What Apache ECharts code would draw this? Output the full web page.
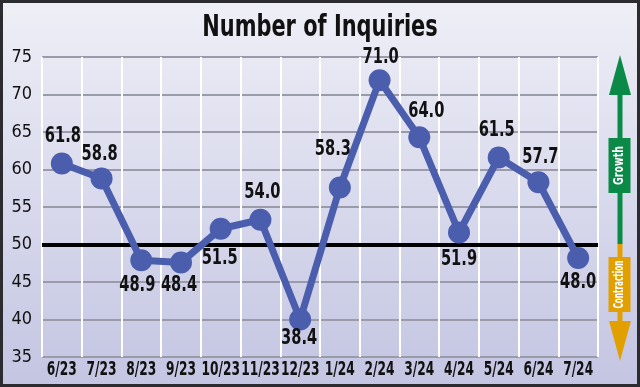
<!DOCTYPE html>
<html>
<head>
<meta charset="utf-8">
<script src="https://cdn.jsdelivr.net/npm/echarts@6/dist/echarts.min.js"></script>
<style>html,body{margin:0;padding:0;}#c{width:640px;height:387px;}</style>
</head>
<body>
<div id="c"></div>
<script>
// ---- data ----
const titleText = 'Number of Inquiries';
const categories = ['6/23','7/23','8/23','9/23','10/23','11/23','12/23','1/24','2/24','3/24','4/24','5/24','6/24','7/24'];
// values as plotted (point positions)
const plotted = [60.8, 58.8, 47.9, 47.6, 52.1, 53.3, 40.0, 57.6, 71.9, 64.3, 51.6, 61.6, 58.3, 48.2];
// values as printed next to each point
const printed = ['61.8','58.8','48.9','48.4','51.5','54.0','38.4','58.3','71.0','64.0','51.9','61.5','57.7','48.0'];
const yTicks = [35, 40, 45, 50, 55, 60, 65, 70, 75];
const threshold = 50;
const growthText = 'Growth';
const contractionText = 'Contraction';

// ---- layout ----
const labelOffsets = [[1,-27],[-2,-24],[-4,25],[-2,23],[-1,30],[2,-27],[-1,19],[-7,-38],[1,-23],[7,-26],[0,27],[-2,-27],[2,-25],[0,24]];
const FONT = '"DejaVu Sans Condensed", "Liberation Sans Narrow", Arial, sans-serif';
const lineColor = '#4b5eae';
const green = '#0b8a47';
const orange = '#e2a000';

const chart = echarts.init(document.getElementById('c'), null, {renderer: 'canvas'});

chart.setOption({
  animation: false,
  backgroundColor: {
    type: 'linear', x: 0, y: 0, x2: 0, y2: 1,
    colorStops: [{offset: 0, color: '#efeff7'}, {offset: 1, color: '#c3c5e2'}]
  },
  grid: { left: 42, right: 42, top: 57, bottom: 30, containLabel: false },
  xAxis: {
    type: 'category', data: categories, boundaryGap: true,
    axisLine: { show: false }, axisTick: { show: false },
    axisLabel: { show: false },
    splitLine: { show: true, lineStyle: { color: '#ffffff', width: 2 } }
  },
  yAxis: {
    type: 'value', min: yTicks[0], max: yTicks[yTicks.length - 1], interval: yTicks[1] - yTicks[0],
    axisLine: { show: false }, axisTick: { show: false },
    axisLabel: { color: '#111', fontFamily: FONT, fontSize: 18, margin: 10 },
    splitLine: { show: true, lineStyle: { color: '#9a9aa8', width: 2 } }
  },
  series: [{
    type: 'line', data: plotted,
    symbol: 'circle', symbolSize: 22,
    lineStyle: { color: lineColor, width: 7 },
    itemStyle: { color: lineColor },
    label: { show: false },
    markLine: {
      silent: true, symbol: 'none', label: { show: false },
      lineStyle: { color: '#000', width: 4, type: 'solid' },
      data: [{ yAxis: threshold }]
    },
    z: 5
  }]
});

function txt(s, x, y, font, sx, fill, rot) {
  return {
    type: 'text', x: x, y: y, scaleX: sx, rotation: rot || 0, z: 20,
    style: { text: s, x: 0, y: 0, align: 'center', verticalAlign: 'middle', fill: fill, font: font }
  };
}

const g = [];
// title
g.push(txt(titleText, 320, 28, 'bold 31px ' + FONT, 0.75, '#111'));
// point labels and category labels
categories.forEach((c, i) => {
  const p = chart.convertToPixel({ xAxisIndex: 0, yAxisIndex: 0 }, [i, plotted[i]]);
  g.push(txt(printed[i], p[0] + labelOffsets[i][0], p[1] + labelOffsets[i][1], 'bold 22px ' + FONT, 0.74, '#111'));
  const base = chart.convertToPixel({ xAxisIndex: 0, yAxisIndex: 0 }, [i, yTicks[0]]);
  g.push(txt(c, base[0], base[1] + 13, 'bold 20px ' + FONT, 0.68, '#111'));
});
// frame
g.push({ type: 'rect', shape: { x: 1.5, y: 1.5, width: 637, height: 384 },
  style: { fill: 'none', stroke: '#2b2b30', lineWidth: 3 }, z: 30 });
// growth arrow
g.push({ type: 'rect', shape: { x: 617.5, y: 90, width: 5, height: 154 }, style: { fill: green }, z: 10 });
g.push({ type: 'polygon', shape: { points: [[620, 55], [631, 95], [609, 95]] }, style: { fill: green }, z: 10 });
g.push({ type: 'rect', shape: { x: 608.5, y: 138, width: 22, height: 55 }, style: { fill: green }, z: 11 });
g.push(txt(growthText, 619.5, 165.5, 'bold 14px ' + FONT, 0.75, '#ffffff', Math.PI / 2));
// contraction arrow
g.push({ type: 'rect', shape: { x: 617.5, y: 244, width: 5, height: 80 }, style: { fill: orange }, z: 10 });
g.push({ type: 'polygon', shape: { points: [[609, 321], [631, 321], [620, 361]] }, style: { fill: orange }, z: 10 });
g.push({ type: 'rect', shape: { x: 608.5, y: 257, width: 22, height: 55 }, style: { fill: orange }, z: 11 });
g.push(txt(contractionText, 619.5, 284.5, 'bold 14px ' + FONT, 0.58, '#ffffff', Math.PI / 2));

chart.setOption({ graphic: g });
</script>
</body>
</html>
